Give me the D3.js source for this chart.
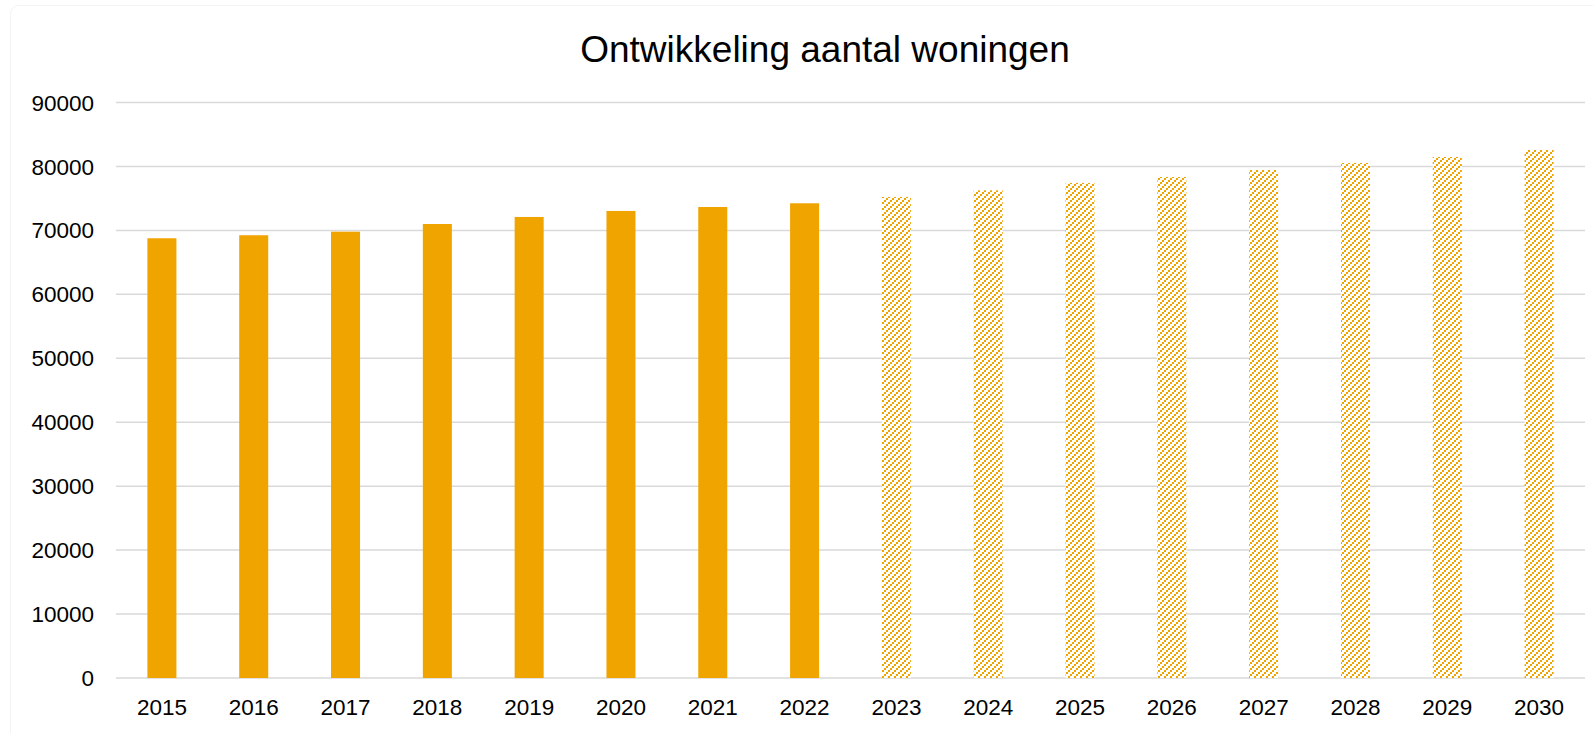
<!DOCTYPE html>
<html>
<head>
<meta charset="utf-8">
<script src="https://cdn.jsdelivr.net/npm/d3@7"></script>
<style>
  body { margin: 0; background: #fff; }
  text { font-family: "Liberation Sans", Arial, sans-serif; fill: #000; }
</style>
</head>
<body>
<div id="chart"></div>
<script>
// realised numbers and forecast (hatched) numbers
var years = ["2015", "2016", "2017", "2018", "2019", "2020", "2021", "2022",
             "2023", "2024", "2025", "2026", "2027", "2028", "2029", "2030"];
var woningen = [68770, 69240, 69800, 71000, 72100, 73040, 73660, 74240,
                75230, 76270, 77420, 78350, 79450, 80540, 81480, 82580];
var prognose = [false, false, false, false, false, false, false, false,
                true, true, true, true, true, true, true, true];
var yTicks = [0, 10000, 20000, 30000, 40000, 50000, 60000, 70000, 80000, 90000];

var width = 1593,
  height = 733;

var svg = d3.select("#chart")
  .append("svg")
  .attr("width", width)
  .attr("height", height);

// faint chart area border
svg.append("rect")
  .attr("x", 10.5).attr("y", 5.5)
  .attr("width", 1640).attr("height", 800)
  .attr("rx", 8)
  .attr("fill", "none")
  .attr("stroke", "#f3f3f3");

// dotted upward diagonal hatch for the forecast years
var defs = svg.append("defs");
var pat = defs.append("pattern")
  .attr("id", "hatch")
  .attr("patternUnits", "userSpaceOnUse")
  .attr("width", 6)
  .attr("height", 6);
pat.append("rect").attr("width", 6).attr("height", 6).attr("fill", "#fff");
[[0, 4], [2, 2], [4, 0]].forEach(function(p) {
  pat.append("rect").attr("x", p[0]).attr("y", p[1])
    .attr("width", 2).attr("height", 2)
    .attr("shape-rendering", "crispEdges")
    .attr("fill", "#f0a400");
});

var x = d3.scaleBand()
  .domain(years)
  .range([116, 1585])
  .paddingInner(0.684)
  .paddingOuter(0.342);

var y = d3.scaleLinear()
  .domain([0, 90000])
  .range([678, 102.5]);

// gridlines
svg.append("g")
  .selectAll("line")
  .data(yTicks)
  .enter()
  .append("line")
  .attr("x1", 116)
  .attr("x2", 1585)
  .attr("y1", function(d) { return y(d); })
  .attr("y2", function(d) { return y(d); })
  .attr("stroke", "#d9d9d9")
  .attr("stroke-width", 1.5);

// y labels
svg.append("g")
  .selectAll("text")
  .data(yTicks)
  .enter()
  .append("text")
  .attr("x", 94)
  .attr("y", function(d) { return y(d); })
  .attr("dy", "0.36em")
  .attr("text-anchor", "end")
  .style("font-size", "22.5px")
  .text(function(d) { return d; });

// bars
svg.append("g")
  .selectAll("rect")
  .data(woningen)
  .enter()
  .append("rect")
  .attr("x", function(d, i) { return x(years[i]); })
  .attr("width", x.bandwidth())
  .attr("y", function(d) { return y(d); })
  .attr("height", function(d) { return y(0) - y(d); })
  .attr("fill", function(d, i) { return prognose[i] ? "url(#hatch)" : "#f0a400"; });

// x labels
svg.append("g")
  .selectAll("text")
  .data(years)
  .enter()
  .append("text")
  .attr("x", function(d) { return x(d) + x.bandwidth() / 2; })
  .attr("y", 715)
  .attr("text-anchor", "middle")
  .style("font-size", "22.5px")
  .text(function(d) { return d; });

svg.append("text")
  .attr("x", 825)
  .attr("y", 62)
  .attr("text-anchor", "middle")
  .style("font-size", "37px")
  .text("Ontwikkeling aantal woningen");
</script>
</body>
</html>
